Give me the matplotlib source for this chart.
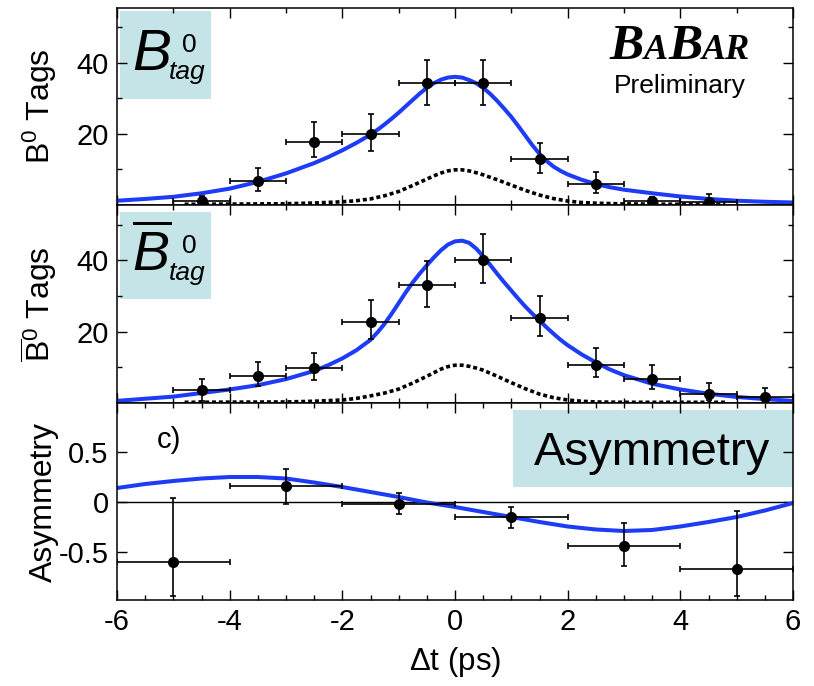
import matplotlib
matplotlib.use("Agg")
import matplotlib.pyplot as plt
from matplotlib.patches import Rectangle
from matplotlib.ticker import MultipleLocator
from matplotlib.offsetbox import TextArea, HPacker, AnnotationBbox

plt.rcParams['font.family'] = ['Liberation Sans', 'DejaVu Sans']
plt.rcParams['mathtext.fontset'] = 'custom'
plt.rcParams['mathtext.rm'] = 'Liberation Sans'
plt.rcParams['mathtext.it'] = 'Liberation Sans:italic'
plt.rcParams['mathtext.bf'] = 'Liberation Sans:bold'

# ---- data ----
# B0 tags
b0_x = [-4.5, -3.5, -2.5, -1.5, -0.5, 0.5, 1.5, 2.5, 3.5, 4.5]
b0_y = [1.0, 6.8, 17.8, 19.9, 34.3, 34.3, 12.9, 5.8, 1.0, 0.7]
b0_lo = [1.0, 2.8, 4.2, 4.6, 6.1, 6.1, 3.8, 2.3, 1.0, 0.7]
b0_hi = [1.5, 3.7, 5.5, 5.6, 6.5, 6.5, 4.6, 3.4, 1.2, 2.3]

# B0bar tags
bb_x = [-4.5, -3.5, -2.5, -1.5, -0.5, 0.5, 1.5, 2.5, 3.5, 4.5, 5.5]
bb_y = [3.7, 7.6, 9.8, 22.8, 33.0, 40.0, 23.9, 10.7, 6.7, 2.6, 1.7]
bb_lo = [3.1, 2.8, 3.3, 4.9, 6.0, 6.4, 5.0, 3.4, 2.7, 1.8, 1.2]
bb_hi = [3.0, 4.0, 4.2, 6.1, 6.7, 7.5, 6.0, 4.6, 3.9, 2.9, 2.5]

# asymmetry, 2 ps bins
as_x = [-5, -3, -1, 1, 3, 5]
as_y = [-0.60, 0.16, -0.02, -0.15, -0.44, -0.67]
as_lo = [0.34, 0.18, 0.10, 0.11, 0.20, 0.27]
as_hi = [0.64, 0.17, 0.11, 0.10, 0.23, 0.58]
as_xerr = 1.0

# fit curves
fit_t = [-6, -5.5, -5, -4.5, -4, -3.5, -3, -2.5, -2.25, -2, -1.75, -1.5, -1.375, -1.25,
         -1.125, -1, -0.875, -0.75, -0.625, -0.5, -0.375, -0.25, -0.125, 0, 0.125, 0.25,
         0.375, 0.5, 0.625, 0.75, 0.875, 1, 1.125, 1.25, 1.375, 1.5, 1.625, 1.75, 1.875,
         2, 2.25, 2.5, 2.75, 3, 3.5, 4, 4.5, 5, 5.5, 6]
fit_b0 = [1.2, 1.7, 2.3, 3.3, 4.6, 6.5, 8.9, 11.8, 13.5, 15.4, 17.5, 19.8, 21.2, 22.7,
          24.3, 26.0, 27.8, 29.6, 31.4, 33.0, 34.3, 35.3, 35.9, 36.1, 35.9, 35.2,
          34.3, 33.0, 31.3, 29.3, 27.1, 24.8, 22.2, 19.5, 16.8, 14.4, 12.4, 10.8, 9.6,
          8.6, 7.1, 5.9, 5.0, 4.3, 3.3, 2.4, 1.7, 1.2, 0.9, 0.7]
fit_bb = [0.6, 1.2, 1.8, 2.8, 3.8, 5.0, 6.7, 9.0, 10.6, 12.5, 14.8, 17.7, 19.8, 22.2,
          25.0, 28.0, 31.0, 33.8, 36.3, 38.6, 40.8, 42.8, 44.4, 45.3, 45.5, 44.9,
          43.3, 41.1, 38.7, 36.2, 33.8, 31.5, 29.2, 27.0, 25.0, 23.1, 21.2, 19.4, 17.7,
          16.2, 13.6, 11.4, 9.4, 7.8, 5.4, 3.8, 2.6, 1.7, 1.1, 0.6]

bkg_t = [-4.8, -4, -3, -2.5, -2, -1.75, -1.5, -1.25, -1, -0.75, -0.5, -0.375, -0.25,
         -0.125, 0, 0.125, 0.25, 0.375, 0.5, 0.75, 1, 1.25, 1.5, 1.75, 2, 2.25, 2.5,
         3, 4, 4.8]
bkg_b0 = [0.2, 0.25, 0.35, 0.55, 0.9, 1.2, 1.7, 2.6, 3.8, 5.5, 7.3, 8.2, 9.0,
          9.6, 9.9, 9.9, 9.6, 9.1, 8.5, 7.1, 5.6, 4.1, 2.8, 1.8, 1.1, 0.7, 0.5,
          0.3, 0.2, 0.2]
bkg_bb = [0.2, 0.25, 0.3, 0.5, 0.85, 1.3, 2.0, 2.8, 3.9, 5.6, 7.5, 8.5, 9.5,
          10.2, 10.6, 10.6, 10.3, 9.8, 9.2, 7.5, 5.7, 4.0, 2.5, 1.5, 0.85, 0.5, 0.3,
          0.2, 0.2, 0.2]

asym_t = [-6, -5.5, -5, -4.5, -4, -3.5, -3, -2.5, -2, -1.5, -1, -0.5, 0, 0.5, 1, 1.5,
          2, 2.5, 3, 3.5, 4, 4.5, 5, 5.5, 6]
asym_fit = [0.14, 0.18, 0.21, 0.235, 0.25, 0.25, 0.235, 0.195, 0.15, 0.10, 0.05, -0.005,
            -0.05, -0.10, -0.15, -0.20, -0.245, -0.275, -0.29, -0.28, -0.245, -0.20,
            -0.15, -0.085, -0.01]

blue = '#1e3cf5'
boxc = '#c5e4e8'
tick_fs = 21

fig = plt.figure(figsize=(8.14, 6.86), dpi=100)
L, W = 117 / 814, 676 / 814
ax1 = fig.add_axes([L, 0.7012, W, 0.2872])
ax2 = fig.add_axes([L, 0.4125, W, 0.2887])
ax3 = fig.add_axes([L, 0.1254, W, 0.2871])

ebkw = dict(fmt='o', color='black', ms=7, elinewidth=1.2, capsize=2.5, capthick=1.2, zorder=3)
dash = (0, (1.1, 0.8))

for ax in (ax1, ax2, ax3):
    for s in ax.spines.values():
        s.set_linewidth(1.1)
    ax.set_xlim(-6, 6)
    ax.tick_params(which='both', direction='in', top=True, right=True, labelsize=tick_fs, width=1.0)
    ax.tick_params(which='major', length=7, pad=6)
    ax.tick_params(which='minor', length=3.5)

# panel 1
ax1.errorbar(b0_x, b0_y, yerr=[b0_lo, b0_hi], xerr=0.5, **ebkw)
ax1.plot(fit_t, fit_b0, color=blue, lw=2.9, zorder=2)
ax1.plot(bkg_t, bkg_b0, color='black', lw=2.6, ls=dash, zorder=2)
ax1.set_ylim(0, 55.5)
ax1.set_yticks([20, 40])
ax1.yaxis.set_minor_locator(MultipleLocator(10))
ax1.set_ylabel(r'B$^0$ Tags')
ax1.add_patch(Rectangle((0.0044, 0.538), 0.135, 0.447, transform=ax1.transAxes,
                        facecolor=boxc, edgecolor='none', zorder=0.5))
ax1.text(0.022, 0.685, 'B', style='italic', fontsize=42, transform=ax1.transAxes)
ax1.text(0.096, 0.873, '0', fontsize=19, va='top', transform=ax1.transAxes)
ax1.text(0.077, 0.64, 'tag', style='italic', fontsize=19, transform=ax1.transAxes)

big = dict(family='Liberation Serif', weight='bold', style='italic', fontsize=37)
small = dict(family='Liberation Serif', weight='bold', style='italic', fontsize=26)
logo = HPacker(children=[TextArea('B', textprops=big), TextArea('A', textprops=small),
                         TextArea('B', textprops=big), TextArea('AR', textprops=small)],
               align='baseline', pad=0, sep=0)
ax1.add_artist(AnnotationBbox(logo, (0.833, 0.80), xycoords='axes fraction',
                              frameon=False, pad=0, box_alignment=(0.5, 0.5)))
ax1.text(0.833, 0.57, 'Preliminary', fontsize=19, ha='center', transform=ax1.transAxes)

# panel 2
ax2.errorbar(bb_x, bb_y, yerr=[bb_lo, bb_hi], xerr=0.5, **ebkw)
ax2.plot(fit_t, fit_bb, color=blue, lw=2.9, zorder=2)
ax2.plot(bkg_t, bkg_bb, color='black', lw=2.6, ls=dash, zorder=2)
ax2.set_ylim(0, 55.5)
ax2.set_yticks([20, 40])
ax2.yaxis.set_minor_locator(MultipleLocator(10))
ax2.set_ylabel(r'$\overline{\mathrm{B}}^{0}$ Tags')
ax2.add_patch(Rectangle((0.0044, 0.525), 0.135, 0.441, transform=ax2.transAxes,
                        facecolor=boxc, edgecolor='none', zorder=0.5))
ax2.text(0.022, 0.665, r'$\overline{B}$', fontsize=40, transform=ax2.transAxes)
ax2.text(0.096, 0.855, '0', fontsize=19, va='top', transform=ax2.transAxes)
ax2.text(0.077, 0.62, 'tag', style='italic', fontsize=19, transform=ax2.transAxes)

for ax in (ax1, ax2):
    ax.xaxis.set_major_locator(MultipleLocator(2))
    ax.xaxis.set_minor_locator(MultipleLocator(1))
    ax.tick_params(axis='x', labelbottom=False)

# panel 3
ax3.axhline(0, color='black', lw=1.0, zorder=1)
ax3.errorbar(as_x, as_y, yerr=[as_lo, as_hi], xerr=as_xerr, **ebkw)
ax3.plot(asym_t, asym_fit, color=blue, lw=2.9, zorder=2)
ax3.set_ylim(-0.98, 0.99)
ax3.set_yticks([-0.5, 0, 0.5])
ax3.set_yticklabels(['-0.5', '0', '0.5'])
ax3.set_ylabel('Asymmetry')
ax3.add_patch(Rectangle((0.586, 0.575), 0.414, 0.389, transform=ax3.transAxes,
                        facecolor=boxc, edgecolor='none', zorder=0.5))
ax3.text(0.791, 0.685, 'Asymmetry', fontsize=34, ha='center', transform=ax3.transAxes)
ax3.text(0.059, 0.772, 'c)', fontsize=21, transform=ax3.transAxes)
ax3.set_xlabel(r'$\Delta$t (ps)', fontsize=22.5, labelpad=6)
ax3.set_xticks([-6, -4, -2, 0, 2, 4, 6])
ax3.set_xticklabels(['-6', '-4', '-2', '0', '2', '4', '6'])
ax3.xaxis.set_minor_locator(MultipleLocator(0.5))

for ax in (ax1, ax2, ax3):
    ax.set_ylabel(ax.get_ylabel(), fontsize=23)
    ax.yaxis.set_label_coords(-0.086, 0.5)

fig.savefig('out.png', dpi=100)
